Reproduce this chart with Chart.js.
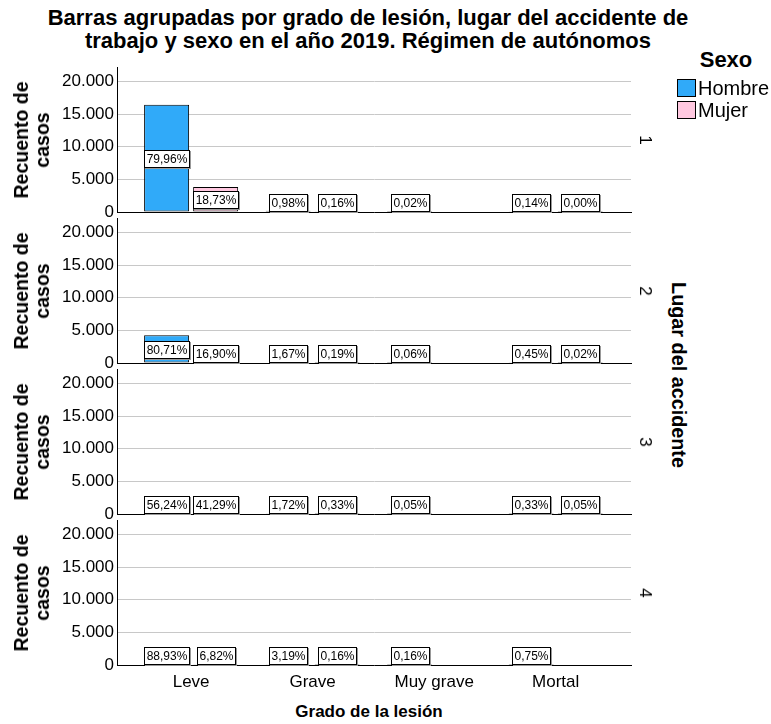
<!DOCTYPE html>
<html lang="es">
<head>
<meta charset="UTF-8">
<title>Barras agrupadas por grado de lesión</title>
<script src="https://cdn.jsdelivr.net/npm/chart.js@4.4.0/dist/chart.umd.min.js"></script>
<style>
  body { margin: 0; background: #fff; font-family: "Liberation Sans", Arial, sans-serif; color: #000; }
  #wrap { position: relative; width: 771px; height: 724px; overflow: hidden; }
  .abs { position: absolute; white-space: nowrap; }
  canvas.panel { position: absolute; left: 0; }
  #title { left: 368px; top: 29px; text-align: center; font-weight: bold; font-size: 22px; line-height: 23px; transform: translate(-50%, -50%); }
  .ytitle { font-weight: bold; font-size: 19.5px; line-height: 21px; text-align: center; transform: translate(-50%, -50%) rotate(-90deg); }
  .rowlab { font-size: 17px; transform: translate(-50%, -50%) rotate(90deg); }
  #rowtitle { left: 678px; top: 375px; font-weight: bold; font-size: 19.8px; transform: translate(-50%, -50%) rotate(90deg); }
  #xtitle { left: 369px; top: 712px; font-weight: bold; font-size: 17px; transform: translate(-50%, -50%); }
  #legTitle { left: 726px; top: 60px; font-weight: bold; font-size: 22px; transform: translate(-50%, -50%); }
  .legbox { width: 17px; height: 16px; border: 1px solid #000; }
  .legtxt { font-size: 20px; line-height: 18px; }
</style>
</head>
<body>
<div id="wrap">
  <div id="title" class="abs">Barras agrupadas por grado de lesión, lugar del accidente de<br>trabajo y sexo en el año 2019. Régimen de autónomos</div>
  <div id="legTitle" class="abs">Sexo</div>
  <div id="rowtitle" class="abs">Lugar del accidente</div>
  <div id="xtitle" class="abs">Grado de la lesión</div>
</div>
<script>
  // categorias y series (recuento de casos por lugar del accidente)
  const categories = ['Leve', 'Grave', 'Muy grave', 'Mortal'];
  const places = ['1', '2', '3', '4'];
  const sexes = ['Hombre', 'Mujer'];

  const hombre1 = [16415, 201, 4, 29];
  const mujer1 = [3845, 33, null, 1];
  const hombre2 = [4262, 88, 3, 24];
  const mujer2 = [892, 10, null, 1];
  const hombre3 = [1014, 31, 1, 6];
  const mujer3 = [745, 6, null, 1];
  const hombre4 = [556, 20, 1, 5];
  const mujer4 = [43, 1, null, null];

  // porcentajes mostrados en cada barra
  const pctHombre1 = ['79,96%', '0,98%', '0,02%', '0,14%'];
  const pctMujer1 = ['18,73%', '0,16%', null, '0,00%'];
  const pctHombre2 = ['80,71%', '1,67%', '0,06%', '0,45%'];
  const pctMujer2 = ['16,90%', '0,19%', null, '0,02%'];
  const pctHombre3 = ['56,24%', '1,72%', '0,05%', '0,33%'];
  const pctMujer3 = ['41,29%', '0,33%', null, '0,05%'];
  const pctHombre4 = ['88,93%', '3,19%', '0,16%', '0,75%'];
  const pctMujer4 = ['6,82%', '0,16%', null, null];

  const yTicks = [0, 5000, 10000, 15000, 20000];

  const panels = [
    { h: hombre1, m: mujer1, ph: pctHombre1, pm: pctMujer1 },
    { h: hombre2, m: mujer2, ph: pctHombre2, pm: pctMujer2 },
    { h: hombre3, m: mujer3, ph: pctHombre3, pm: pctMujer3 },
    { h: hombre4, m: mujer4, ph: pctHombre4, pm: pctMujer4 }
  ];

  const colors = ['#30aaf9', '#ffc8e0'];
  const plotTops = [67, 218, 369, 520];
  const plotH = 145;
  const FONT = '"Liberation Sans", Arial, sans-serif';
  Chart.defaults.font.family = FONT;
  Chart.defaults.color = '#000';

  const fmt = v => v.toLocaleString('de-DE');

  const pctLabels = {
    id: 'pctLabels',
    afterDatasetsDraw(chart) {
      const texts = chart.options.plugins.pctLabels.texts;
      const ctx = chart.ctx;
      const base = chart.scales.y.getPixelForValue(0);
      ctx.save();
      ctx.font = '12px ' + FONT;
      ctx.textAlign = 'center';
      ctx.textBaseline = 'middle';
      chart.data.datasets.forEach((ds, d) => {
        chart.getDatasetMeta(d).data.forEach((bar, i) => {
          const t = texts[d][i];
          if (!t) return;
          const w = Math.round(ctx.measureText(t).width + 4), h = 17;
          const cy = Math.min((bar.y + base) / 2, base - 9.5);
          const x0 = Math.round(bar.x - w / 2) + 0.5, y0 = Math.round(cy - h / 2) + 0.5;
          ctx.strokeStyle = '#999';
          ctx.lineWidth = 1;
          ctx.strokeRect(x0 + 1, y0 + 1, w, h);
          ctx.fillStyle = '#fff';
          ctx.fillRect(x0, y0, w, h);
          ctx.strokeStyle = '#000';
          ctx.strokeRect(x0, y0, w, h);
          ctx.fillStyle = '#000';
          ctx.fillText(t, x0 + w / 2, y0 + h / 2 + 0.5);
        });
      });
      ctx.restore();
    }
  };

  const wrap = document.getElementById('wrap');

  panels.forEach((p, k) => {
    const last = k === panels.length - 1;
    const bottomH = last ? 40 : 10;
    const cv = document.createElement('canvas');
    cv.className = 'panel';
    cv.width = 640;
    cv.height = 10 + plotH + bottomH;
    cv.style.top = (plotTops[k] - 10) + 'px';
    wrap.appendChild(cv);

    new Chart(cv.getContext('2d'), {
      type: 'bar',
      data: {
        datasets: [p.h, p.m].map((vals, d) => ({
          label: sexes[d],
          data: vals.map((v, i) => ({ x: i, y: v })),
          backgroundColor: colors[d],
          borderColor: '#000',
          borderWidth: 1,
          borderSkipped: false,
          categoryPercentage: 0.807,
          barPercentage: 0.918
        }))
      },
      options: {
        responsive: false,
        animation: false,
        layout: { padding: { top: 10, right: 9, left: 0, bottom: 0 } },
        plugins: {
          legend: { display: false },
          tooltip: { enabled: false },
          pctLabels: { texts: [p.ph, p.pm] }
        },
        scales: {
          x: {
            type: 'linear',
            offset: false,
            min: -0.61,
            max: 3.62,
            afterBuildTicks: s => { s.ticks = categories.map((c, i) => ({ value: i })); },
            afterFit: s => { s.height = bottomH; s.paddingLeft = 0; s.paddingRight = 0; },
            grid: { display: false, drawTicks: false },
            border: { display: true, color: '#000', width: 1 },
            ticks: {
              display: last,
              autoSkip: false,
              maxRotation: 0,
              padding: 7,
              font: { size: 17 },
              callback: v => categories[v]
            }
          },
          y: {
            min: 0,
            max: 22200,
            afterBuildTicks: s => { s.ticks = yTicks.map(v => ({ value: v })); },
            afterFit: s => { s.width = 117; s.paddingTop = 0; s.paddingBottom = 0; },
            grid: { color: '#c8c8c8', lineWidth: 1, drawTicks: false },
            border: { display: true, color: '#000', width: 1 },
            ticks: { padding: 3, font: { size: 17 }, callback: v => fmt(v) }
          }
        }
      },
      plugins: [pctLabels]
    });

    const cy = plotTops[k] + plotH / 2;
    const yt = document.createElement('div');
    yt.className = 'abs ytitle';
    yt.style.left = '32px';
    yt.style.top = cy + 'px';
    yt.innerHTML = 'Recuento de<br>casos';
    wrap.appendChild(yt);

    const rl = document.createElement('div');
    rl.className = 'abs rowlab';
    rl.style.left = '645px';
    rl.style.top = cy + 'px';
    rl.textContent = places[k];
    wrap.appendChild(rl);
  });

  // leyenda
  sexes.forEach((s, d) => {
    const top = 79 + d * 22;
    const b = document.createElement('div');
    b.className = 'abs legbox';
    b.style.left = '677px';
    b.style.top = top + 'px';
    b.style.background = colors[d];
    wrap.appendChild(b);
    const t = document.createElement('div');
    t.className = 'abs legtxt';
    t.style.left = '698px';
    t.style.top = top + 'px';
    t.textContent = s;
    wrap.appendChild(t);
  });
</script>
</body>
</html>
